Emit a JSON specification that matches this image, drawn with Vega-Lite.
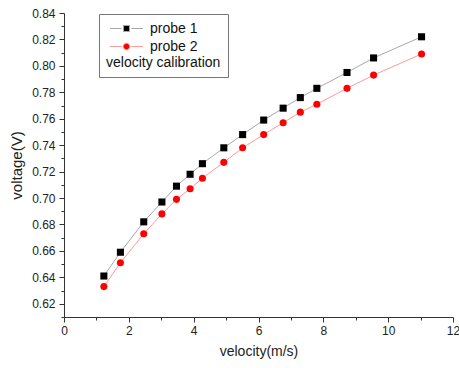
{
  "$schema": "https://vega.github.io/schema/vega-lite/v6.json",
  "width": 389,
  "height": 304,
  "autosize": "none",
  "padding": {"left": 64, "top": 13, "right": 6, "bottom": 51},
  "background": "white",
  "config": {
    "view": {"stroke": null},
    "font": "Liberation Sans",
    "axis": {
      "grid": false,
      "domainColor": "#333333",
      "tickColor": "#333333",
      "labelColor": "#222222",
      "titleColor": "#222222",
      "labelFontSize": 12,
      "titleFontSize": 14,
      "titleFontWeight": "normal",
      "labelFont": "Liberation Sans",
      "titleFont": "Liberation Sans"
    },
    "legend": {"symbolFillColor": "#000000"}
  },
  "data": {
    "values": [
      {"probe": "probe 1", "velocity": 1.23, "voltage": 0.641},
      {"probe": "probe 1", "velocity": 1.74, "voltage": 0.659},
      {"probe": "probe 1", "velocity": 2.46, "voltage": 0.682},
      {"probe": "probe 1", "velocity": 3.02, "voltage": 0.697},
      {"probe": "probe 1", "velocity": 3.47, "voltage": 0.709},
      {"probe": "probe 1", "velocity": 3.89, "voltage": 0.718},
      {"probe": "probe 1", "velocity": 4.27, "voltage": 0.726},
      {"probe": "probe 1", "velocity": 4.93, "voltage": 0.738},
      {"probe": "probe 1", "velocity": 5.51, "voltage": 0.748},
      {"probe": "probe 1", "velocity": 6.16, "voltage": 0.759},
      {"probe": "probe 1", "velocity": 6.76, "voltage": 0.768},
      {"probe": "probe 1", "velocity": 7.29, "voltage": 0.776},
      {"probe": "probe 1", "velocity": 7.8, "voltage": 0.783},
      {"probe": "probe 1", "velocity": 8.73, "voltage": 0.795},
      {"probe": "probe 1", "velocity": 9.55, "voltage": 0.806},
      {"probe": "probe 1", "velocity": 11.03, "voltage": 0.822},
      {"probe": "probe 2", "velocity": 1.23, "voltage": 0.633},
      {"probe": "probe 2", "velocity": 1.74, "voltage": 0.651},
      {"probe": "probe 2", "velocity": 2.46, "voltage": 0.673},
      {"probe": "probe 2", "velocity": 3.02, "voltage": 0.688},
      {"probe": "probe 2", "velocity": 3.47, "voltage": 0.699},
      {"probe": "probe 2", "velocity": 3.89, "voltage": 0.707},
      {"probe": "probe 2", "velocity": 4.27, "voltage": 0.715},
      {"probe": "probe 2", "velocity": 4.93, "voltage": 0.727},
      {"probe": "probe 2", "velocity": 5.51, "voltage": 0.738},
      {"probe": "probe 2", "velocity": 6.16, "voltage": 0.748},
      {"probe": "probe 2", "velocity": 6.76, "voltage": 0.757},
      {"probe": "probe 2", "velocity": 7.29, "voltage": 0.765},
      {"probe": "probe 2", "velocity": 7.8, "voltage": 0.771},
      {"probe": "probe 2", "velocity": 8.73, "voltage": 0.783},
      {"probe": "probe 2", "velocity": 9.55, "voltage": 0.793},
      {"probe": "probe 2", "velocity": 11.03, "voltage": 0.809}
    ]
  },
  "layer": [
    {
      "transform": [{"filter": "datum.probe == 'probe 1'"}],
      "mark": {"type": "line", "strokeWidth": 1, "color": "#a8a8a8"},
      "encoding": {
        "x": {
          "field": "velocity", "type": "quantitative",
          "scale": {"domain": [0, 12], "nice": false, "zero": false},
          "axis": {"values": [0, 2, 4, 6, 8, 10, 12], "title": "velocity(m/s)", "tickSize": 5, "labelPadding": 3, "titlePadding": 8, "labelFlush": false, "orient": "bottom"}
        },
        "y": {
          "field": "voltage", "type": "quantitative",
          "scale": {"domain": [0.61, 0.84], "nice": false, "zero": false},
          "axis": {"values": [0.62, 0.64, 0.66, 0.68, 0.7, 0.72, 0.74, 0.76, 0.78, 0.8, 0.82, 0.84], "format": ".2f", "title": "voltage(V)", "titleFontSize": 15, "tickSize": 5, "labelPadding": 4, "titlePadding": 7, "orient": "left"}
        }
      }
    },
    {
      "transform": [{"filter": "datum.probe == 'probe 2'"}],
      "mark": {"type": "line", "strokeWidth": 1, "color": "#ff9a9a"},
      "encoding": {
        "x": {
          "field": "velocity", "type": "quantitative",
          "axis": {"values": [1, 3, 5, 7, 9, 11], "labels": false, "title": null, "tickSize": 3, "domain": false, "orient": "bottom"}
        },
        "y": {
          "field": "voltage", "type": "quantitative",
          "axis": {"values": [0.61, 0.63, 0.65, 0.67, 0.69, 0.71, 0.73, 0.75, 0.77, 0.79, 0.81, 0.83], "labels": false, "title": null, "tickSize": 3, "domain": false, "orient": "left"}
        }
      }
    },
    {
      "transform": [{"filter": "datum.probe == 'probe 1'"}],
      "mark": {"type": "point", "shape": "square", "filled": true, "opacity": 1, "size": 50, "color": "#000000"},
      "encoding": {
        "x": {"field": "velocity", "type": "quantitative", "axis": null},
        "y": {"field": "voltage", "type": "quantitative", "axis": null}
      }
    },
    {
      "transform": [{"filter": "datum.probe == 'probe 2'"}],
      "mark": {"type": "point", "shape": "circle", "filled": true, "opacity": 1, "size": 50, "color": "#ff0000"},
      "encoding": {
        "x": {"field": "velocity", "type": "quantitative", "axis": null},
        "y": {"field": "voltage", "type": "quantitative", "axis": null}
      }
    },
    {
      "mark": {"type": "point", "filled": true, "opacity": 0, "strokeWidth": 1},
      "encoding": {
        "x": {"field": "velocity", "type": "quantitative", "axis": null},
        "y": {"field": "voltage", "type": "quantitative", "axis": null},
        "color": {
          "field": "probe", "type": "nominal",
          "scale": {"domain": ["probe 1", "probe 2"], "range": ["#000000", "#ff0000"]},
          "legend": {
            "orient": "none",
            "legendX": 35,
            "legendY": 1,
            "title": "velocity calibration",
            "titleOrient": "bottom",
            "titleFontSize": 14,
            "titleFontWeight": "normal",
            "titleColor": "#111111",
            "titlePadding": 2,
            "labelFontSize": 14,
            "labelColor": "#111111",
            "labelOffset": 16,
            "symbolSize": 196,
            "symbolOffset": 13,
            "symbolStrokeWidth": 1,
            "symbolOpacity": 1,
            "symbolFillColor": "#000000",
            "rowPadding": 3,
            "padding": 7,
            "strokeColor": "#777777",
            "fillColor": "white",
            "cornerRadius": 0
          }
        },
        "stroke": {
          "field": "probe", "type": "nominal",
          "scale": {"domain": ["probe 1", "probe 2"], "range": ["#a8a8a8", "#ff9a9a"]}
        },
        "shape": {
          "field": "probe", "type": "nominal",
          "scale": {"domain": ["probe 1", "probe 2"], "range": ["M-2.36,0H-0.7M0.7,0H2.36M-0.43,-0.43H0.43V0.43H-0.43Z", "M-2.36,0H-0.7M0.7,0H2.36M0.47,0A0.47,0.47 0 1 1 -0.47,0A0.47,0.47 0 1 1 0.47,0Z"]}
        }
      }
    }
  ],
  "resolve": {"axis": {"x": "independent", "y": "independent"}}
}
